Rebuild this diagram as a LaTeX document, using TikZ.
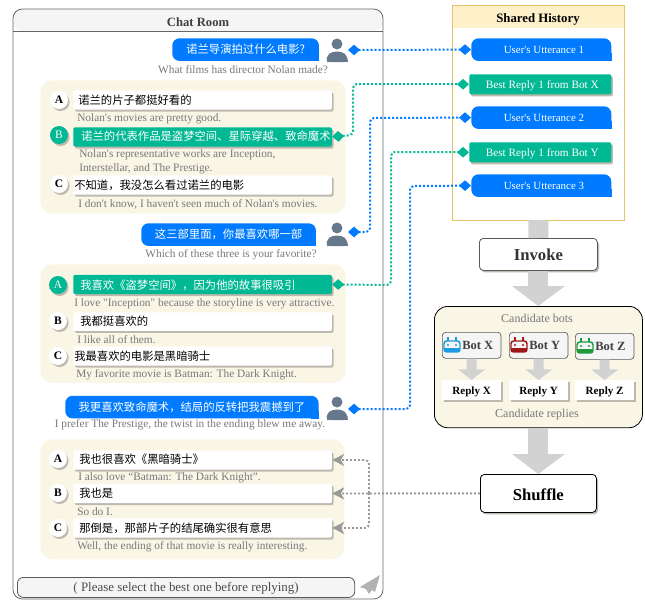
\documentclass[tikz,border=0pt]{standalone}
\usepackage{fontspec}
\defaultfontfeatures[\rmfamily]{}
\setmainfont{Liberation Serif}
\newfontfamily\cjk{Noto Sans CJK SC}
\usetikzlibrary{arrows.meta}
\definecolor{ublue}{HTML}{007BFF}
\definecolor{rgreen}{HTML}{00B894}
\definecolor{panel}{HTML}{FAF6E6}
\definecolor{shade}{HTML}{BDB9AE}
\definecolor{gtext}{HTML}{77787C}
\definecolor{bigarr}{HTML}{D2D2D2}
\definecolor{iconc}{HTML}{66788C}
\definecolor{histhead}{HTML}{FEF0C9}
\definecolor{histline}{HTML}{E5C26B}
\definecolor{botblue}{HTML}{1E9BE0}
\definecolor{botred}{HTML}{A01818}
\definecolor{botgreen}{HTML}{1F9A3A}
\tikzset{
 x=0.75pt,y=-0.75pt,
 panelbox/.style={fill=panel,rounded corners=9pt,anchor=north west,inner sep=0pt},
 shadowed/.style={preaction={fill=shade,transform canvas={xshift=1.2pt,yshift=-1.5pt}}},
 replybox/.style={fill=white,shadowed,rounded corners=1.5pt,anchor=north west,inner sep=0pt,minimum width=194pt},
 pickbox/.style={replybox,fill=rgreen},
 userbox/.style={fill=ublue,rounded corners=5.5pt,anchor=north west,inner sep=0pt,text=white,font=\cjk\fontsize{8.5}{10}\selectfont},
 histuser/.style={userbox,font=\fontsize{8.2}{10}\selectfont,minimum width=105pt,minimum height=17pt,text depth=0pt,execute at begin node=\hspace{4pt}},
 histreply/.style={fill=rgreen,shadowed,rounded corners=1.5pt,anchor=north west,inner sep=0pt,text=white,font=\fontsize{8.45}{10}\selectfont,minimum width=106.5pt,minimum height=15pt,text depth=0pt,execute at begin node=\hspace{3pt}},
 letter/.style={circle,fill=white,shadowed,minimum size=13.5pt,inner sep=0pt,font=\bfseries\fontsize{8.6}{10}\selectfont},
 pickletter/.style={letter,fill=rgreen,text=white,font=\fontsize{8.6}{10}\selectfont},
 cntext/.style={anchor=west,inner sep=0pt,font=\cjk\fontsize{8.5}{10}\selectfont},
 entext/.style={anchor=west,inner sep=0pt,text=gtext,yshift=-0.6pt,font=\fontsize{8.5}{9}\selectfont},
 midtext/.style={entext,anchor=center},
 stepbox/.style={draw=black!65,fill=white,shadowed,rounded corners=3pt,anchor=north west,inner sep=0pt,line width=0.6pt,font=\bfseries\fontsize{12.5}{14}\selectfont,text=black!80},
 botbox/.style={draw=black!65,fill=black!4,rounded corners=2.5pt,anchor=north west,minimum width=44pt,minimum height=19.5pt,inner sep=0pt,line width=0.5pt},
 outbox/.style={fill=white,shadowed,anchor=north west,minimum width=44pt,minimum height=14.5pt,inner sep=0pt,text height=7pt,text depth=0pt,font=\bfseries\fontsize{8.3}{10}\selectfont},
 dotline/.style={line width=1.5pt,dash pattern=on 1.5pt off 1.5pt,rounded corners=3pt,draw=#1,{Diamond[length=9pt,width=8pt,fill=#1,sep=0pt]}-{Diamond[length=9pt,width=8pt,fill=#1]}},
 grayline/.style={line width=1.4pt,dash pattern=on 1.5pt off 1.5pt,rounded corners=3pt,draw=black!40,-{Stealth[length=9pt,width=9pt,inset=2.5pt]}},
 bigarrow/.style={draw=bigarr,line width=15pt,-{Triangle[length=15pt,width=39pt]}},
 smallarrow/.style={draw=bigarr,line width=7.5pt,-{Triangle[length=8pt,width=20pt]}},
}
\newcommand{\usericon}[2]{
 \fill[iconc] (#1,#2-2) circle (4.1pt);
 \fill[iconc,rounded corners=3pt] (#1-10.5,#2+16) -- (#1-10.5,#2+10) -- (#1-5,#2+5.5) -- (#1+5,#2+5.5) -- (#1+10.5,#2+10) -- (#1+10.5,#2+16) -- cycle;
 \fill[iconc] (#1-10.5,#2+14) rectangle (#1+10.5,#2+16);
}
\newcommand{\boticon}[3]{
 \draw[#3,line width=1.1pt,rounded corners=2pt] (#1-8,#2-4) rectangle (#1+8,#2+7);
 \fill[#3] (#1-8,#2+3) rectangle (#1+8,#2+7);
 \draw[#3,line width=1.1pt] (#1-4,#2-4) -- (#1-4,#2-8) (#1+4,#2-4) -- (#1+4,#2-8);
 \fill[#3] (#1-4,#2) circle (0.9pt) (#1+4,#2) circle (0.9pt);
}
\begin{document}
\begin{tikzpicture}
    \useasboundingbox (0,0) rectangle (645,600);
    % chat room
    \fill[black!4,rounded corners=7pt] (13,31) -- (13,9) -- (383,9) -- (383,31) -- cycle;
    \draw[black!60,line width=0.6pt,rounded corners=7pt] (13,31) -- (13,9) -- (383,9) -- (383,31);
    \draw[black!60,line width=0.6pt,rounded corners=7pt] (13,31) -- (13,599) -- (383,599) -- (383,31);
    \draw[black!60,line width=0.6pt] (13,31) -- (383,31);
    \node[text depth=0pt,font=\bfseries\fontsize{9.5}{10}\selectfont,text=black!75] (title) at (198,22) {Chat Room};
    % panels
    \node[panelbox,minimum width=229pt,minimum height=100pt] (panela) at (40,80) {};
    \node[panelbox,minimum width=229pt,minimum height=89pt] (panelb) at (40,264) {};
    \node[panelbox,minimum width=228pt,minimum height=90pt] (panelc) at (40,439) {};
    % user turns
    \node[userbox,minimum width=110pt,minimum height=17pt] (usera) at (172,38) {诺兰导演拍过什么电影?};
    \node[userbox,minimum width=131pt,minimum height=17pt] (userb) at (141,223) {这三部里面，你最喜欢哪一部};
    \node[userbox,minimum width=190pt,minimum height=17pt] (userc) at (65,395.5) {我更喜欢致命魔术，结局的反转把我震撼到了};
    \foreach \u in {usera,userb,userc}{
        \fill[ublue] (\u.south east) rectangle +(-8,-8);
    }
    \node[midtext] (ena) at (243,69) {What films has director Nolan made?};
    \node[midtext] (enb) at (231,254) {Which of these three is your favorite?};
    \node[midtext] (enc) at (190,424) {I prefer The Prestige, the twist in the ending blew me away.};
    \usericon{337}{46}
    \usericon{337}{230}
    \usericon{337}{404}
    \coordinate (manA) at (348,50);
    \coordinate (manB) at (348,232);
    \coordinate (manC) at (348,409);
    % first replies
    \node[replybox,minimum height=14.5pt] (ra1) at (73,90) {};
    \node[pickbox,minimum height=14.5pt] (rb1) at (73,127) {};
    \node[replybox,minimum height=14.5pt] (rc1) at (73,175) {};
    \node[letter] (la1) at (59,100) {A};
    \node[pickletter] (lb1) at (59,135) {B};
    \node[letter] (lc1) at (59,184) {C};
    \node[cntext] at (78,100) {诺兰的片子都挺好看的};
    \node[cntext,text=white] at (81,136) {诺兰的代表作品是盗梦空间、星际穿越、致命魔术};
    \node[cntext] at (74,185) {不知道，我没怎么看过诺兰的电影};
    \node[entext] at (77,118) {Nolan's movies are pretty good.};
    \node[entext] at (79,154) {Nolan's representative works are Inception,};
    \node[entext] at (79,168) {Interstellar, and The Prestige.};
    \node[entext] at (78,204) {I don't know, I haven't seen much of Nolan's movies.};
    % second replies
    \node[pickbox,minimum height=14.5pt] (ra2) at (73,274.5) {};
    \node[replybox,minimum height=14pt] (rb2) at (73,312) {};
    \node[replybox,minimum height=14.5pt] (rc2) at (73,346) {};
    \node[pickletter] (la2) at (58,285) {A};
    \node[letter] (lb2) at (58,321) {B};
    \node[letter] (lc2) at (58,356) {C};
    \node[cntext,text=white] at (80,285) {我喜欢《盗梦空间》，因为他的故事很吸引};
    \node[cntext] at (80,321) {我都挺喜欢的};
    \node[cntext] at (74,356) {我最喜欢的电影是黑暗骑士};
    \node[entext] at (74,303) {I love "Inception" because the storyline is very attractive.};
    \node[entext] at (77,339) {I like all of them.};
    \node[entext] at (76,374) {My favorite movie is Batman: The Dark Knight.};
    % third replies
    \node[replybox,minimum height=14.5pt] (ra3) at (73,450) {};
    \node[replybox,minimum height=14.5pt] (rb3) at (73,483.5) {};
    \node[replybox,minimum height=14.5pt] (rc3) at (73,518) {};
    \node[letter] (la3) at (58,459) {A};
    \node[letter] (lb3) at (58,493) {B};
    \node[letter] (lc3) at (58,528) {C};
    \node[cntext] at (79,459) {我也很喜欢《黑暗骑士》};
    \node[cntext] at (79,493) {我也是};
    \node[cntext] at (79,528) {那倒是，那部片子的结尾确实很有意思};
    \node[entext] at (78,477) {I also love “Batman: The Dark Knight”.};
    \node[entext] at (77,511) {So do I.};
    \node[entext] at (77,546) {Well, the ending of that movie is really interesting.};
    % input bar
    \node[draw=black!65,fill=black!4,rounded corners=4.5pt,minimum width=253pt,minimum height=15pt,anchor=north west,inner sep=0pt,line width=0.6pt,text=black!70,text depth=0pt,font=\fontsize{9.7}{11}\selectfont] (inputbar) at (17,577) {( Please select the best one before replying)};
    \fill[black!30] (380,575) -- (360,587) -- (366,589) -- (369,594) -- (372,590) -- (375,592) -- cycle;
    % shared history
    \node[draw=none,fill=white,minimum width=129pt,minimum height=161pt,anchor=north west,inner sep=0pt] (history) at (452,5) {};
    \fill[histhead] (452,5) rectangle (624,28);
    \draw[histline,line width=0.6pt] (452,5) rectangle (624,220);
    \node[text depth=0pt,font=\bfseries\fontsize{9.6}{11}\selectfont] (histtitle) at (538,18) {Shared History};
    \node[histuser] (hu1) at (471,38) {User's Utterance 1};
    \node[histreply] (hr1) at (469,74) {Best Reply 1 from Bot X};
    \node[histuser] (hu2) at (471,106) {User's Utterance 2};
    \node[histreply] (hr2) at (469,142) {Best Reply 1 from Bot Y};
    \node[histuser] (hu3) at (471,174) {User's Utterance 3};
    \foreach \u in {hu1,hu2,hu3}{
        \fill[ublue] (\u.south east) rectangle +(-8,-8);
    }
    % pipeline
    \node[stepbox,minimum width=88.5pt,minimum height=24pt] (invoke) at (479,238) {Invoke};
    \node[draw=black,fill=panel,rounded corners=10pt,minimum width=156pt,minimum height=91pt,anchor=north west,inner sep=0pt,line width=0.6pt] (cand) at (434,306) {};
    \node[stepbox,draw=black,text=black,minimum width=87pt,minimum height=28.5pt,text height=11pt,text depth=0pt] (shuffle) at (480,474) {Shuffle};
    \node[midtext,font=\fontsize{9}{10}\selectfont] (cbots) at (537,318) {Candidate bots};
    \node[midtext,font=\fontsize{9}{10}\selectfont] (creps) at (537,414) {Candidate replies};
    \foreach \n/\px/\py/\c in {X/442/332/botblue,Y/509/332/botred,Z/575/333/botgreen}{
        \node[botbox] (bot\n) at (\px,\py) {};
        \boticon{\px+10}{\py+13}{\c}
        \node[anchor=west,inner sep=0pt,font=\bfseries\fontsize{9.4}{10}\selectfont,text=black!75] at (\px+20,\py+13) {Bot \n};
        \node[outbox] (rep\n) at (\px,380) {Reply \n};
        \draw[smallarrow] (bot\n.south) -- (rep\n.north);
    }
    \draw[bigarr,line width=15pt] (history.south) -- (invoke.north);
    \draw[bigarrow] (invoke.south) -- (cand.north);
    \draw[bigarrow] (cand.south) -- (shuffle.north);
    % connectors
    \draw[dotline=ublue] (manA) -- (hu1.west);
    \draw[dotline=ublue] (manB) -- (370,232) -- (370,118) -- (hu2.west);
    \draw[dotline=ublue] (manC) -- (410,409) -- (410,186) -- (hu3.west);
    \draw[dotline=rgreen] (rb1.east) -- (353,135) -- (353,84) -- (hr1.west);
    \draw[dotline=rgreen] (ra2.east) -- (391,285) -- (391,152) -- (hr2.west);
    \coordinate (joint) at (369,493);
    \draw[grayline] (shuffle.west) -- (rb3.east);
    \draw[grayline] (joint) |- (ra3.east);
    \draw[grayline] (joint) |- (rc3.east);
\end{tikzpicture}
\end{document}
